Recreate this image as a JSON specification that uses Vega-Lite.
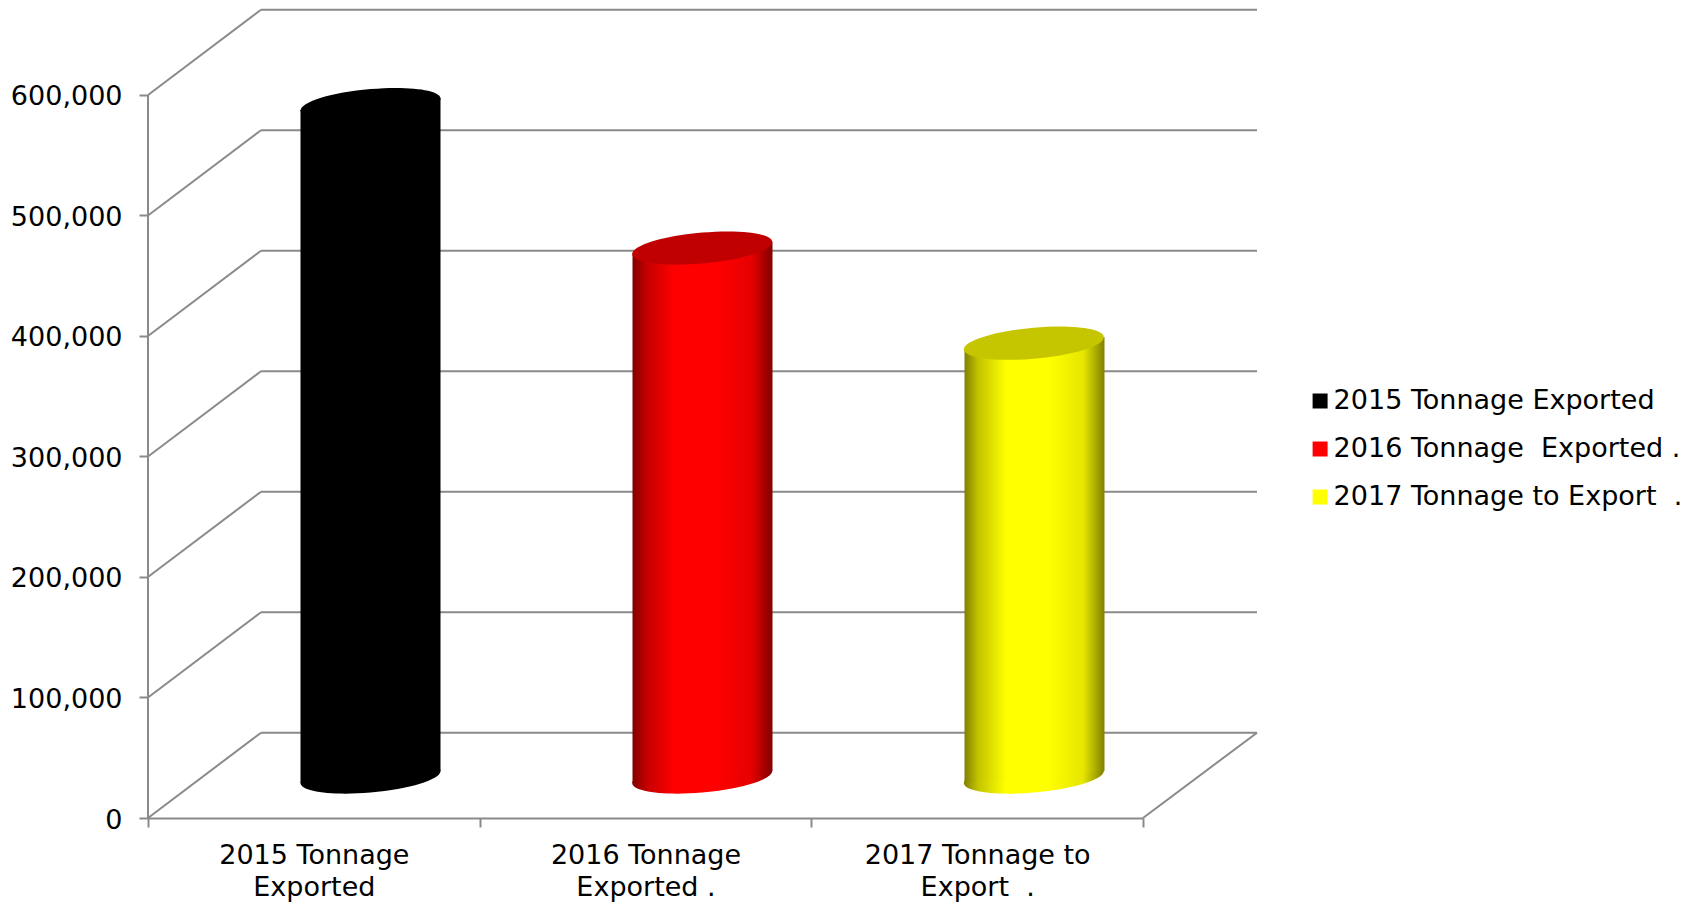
{
"$schema":"https://vega.github.io/schema/vega-lite/v6.json",
"width":1109,"height":809,
"autosize":{"type":"none"},
"padding":{"left":148,"top":9,"right":442,"bottom":85},
"background":"white",
"config":{"view":{"stroke":null},"text":{"font":"DejaVu Sans"},"axis":{"labelFont":"DejaVu Sans","labelFontSize":27,"labelColor":"#000000"},"legend":{"labelFont":"DejaVu Sans","labelFontSize":27,"labelColor":"#000000"}},
"datasets":{
"bars":[
{"category":"2015 Tonnage|Exported","series":"2015 Tonnage Exported","value":558000},
{"category":"2016 Tonnage|Exported .","series":"2016 Tonnage\u00a0 Exported .","value":439000},
{"category":"2017 Tonnage to|Export\u00a0 .","series":"2017 Tonnage to Export\u00a0 .","value":360000}],
"grid":[
{"value":0,"back":70800},{"value":100000,"back":170800},{"value":200000,"back":270800},{"value":300000,"back":370800},{"value":400000,"back":470800},{"value":500000,"back":570800},{"value":600000,"back":670800}],
"bodies":[
{"series":"2015 Tonnage Exported","edge":0.4598,"top":587552,"base":29046},
{"series":"2015 Tonnage Exported","edge":0.8819,"top":597510,"base":39004},
{"series":"2016 Tonnage\u00a0 Exported .","edge":1.4608,"top":468465,"base":29046},
{"series":"2016 Tonnage\u00a0 Exported .","edge":1.8829,"top":478423,"base":39004},
{"series":"2017 Tonnage to Export\u00a0 .","edge":2.4618,"top":389211,"base":29046},
{"series":"2017 Tonnage to Export\u00a0 .","edge":2.8839,"top":399170,"base":39004}]
},
"resolve":{"scale":{"x":"independent"},"axis":{"x":"independent"}},
"layer":[
{"data":{"name":"bars"},
 "mark":{"type":"point","filled":true,"opacity":0},
 "encoding":{
  "x":{"field":"category","type":"nominal","sort":null,"scale":{"type":"band","range":[0,995],"paddingInner":0,"paddingOuter":0},
   "axis":{"title":null,"labelAngle":0,"tickBand":"extent","tickColor":"#8a8a8a","tickWidth":2,"tickSize":9,"domainColor":"#8a8a8a","domainWidth":2,"labelPadding":15.5,"labelLineHeight":32,"labelExpr":"split(datum.label,'|')","labelLimit":340,"labelOverlap":false,"grid":false}},
  "y":{"field":"value","type":"quantitative","scale":{"domain":[0,671369],"nice":false,"zero":false},
   "axis":{"title":null,"values":[0,100000,200000,300000,400000,500000,600000],"labelExpr":"format(datum.value,',')","domain":false,"grid":false,"tickColor":"#8a8a8a","tickWidth":2,"tickSize":9,"labelPadding":17,"labelOffset":2,"labelOverlap":false}},
  "color":{"field":"series","type":"nominal","sort":null,"scale":{"domain":["2015 Tonnage Exported","2016 Tonnage\u00a0 Exported .","2017 Tonnage to Export\u00a0 ."],"range":["#000000","#ff0000","#ffff00"]},
   "legend":{"title":null,"orient":"none","legendX":1158.6,"legendY":378.5,"padding":0,"symbolType":"square","symbolSize":225,"symbolOpacity":1,"symbolStrokeWidth":0,"labelOffset":0,"rowPadding":20,"labelLimit":400}}
 }},
{"data":{"name":"grid"},
 "mark":{"type":"rule","color":"#8a8a8a","strokeWidth":2},
 "encoding":{
  "x":{"datum":0.3407,"type":"quantitative","scale":{"domain":[0,3.3437]},"axis":null},
  "x2":{"datum":3.3437},
  "y":{"field":"back","type":"quantitative"}}},
{"data":{"name":"grid"},
 "mark":{"type":"rule","color":"#8a8a8a","strokeWidth":2},
 "encoding":{
  "x":{"datum":0,"type":"quantitative","scale":{"domain":[0,3.3437]},"axis":null},
  "x2":{"datum":0.3407},
  "y":{"field":"value","type":"quantitative"},
  "y2":{"field":"back"}}},
{"data":{"values":[{"low":0,"high":600000}]},
 "mark":{"type":"rule","color":"#8a8a8a","strokeWidth":2},
 "encoding":{
  "x":{"datum":0,"type":"quantitative","scale":{"domain":[0,3.3437]},"axis":null},
  "y":{"field":"low","type":"quantitative"},
  "y2":{"field":"high"}}},
{"data":{"values":[{"low":0,"high":70800}]},
 "mark":{"type":"rule","color":"#8a8a8a","strokeWidth":2},
 "encoding":{
  "x":{"datum":3,"type":"quantitative","scale":{"domain":[0,3.3437]},"axis":null},
  "x2":{"datum":3.3437},
  "y":{"field":"low","type":"quantitative"},
  "y2":{"field":"high"}}},

{"data":{"name":"bars"},"transform":[{"filter":"datum.value==558000"}],
 "mark":{"type":"point","filled":true,"opacity":1,"size":78400,"strokeWidth":0,"xOffset":56.7,"yOffset":-41,"fill":"#000000","shape":"M0.5,-0.0429C0.5,-0.104,0.2762,-0.1344,0,-0.1107C-0.2762,-0.087,-0.5,-0.0182,-0.5,0.0429C-0.5,0.104,-0.2762,0.1344,0,0.1107C0.2762,0.087,0.5,0.0182,0.5,-0.0429Z"},
 "encoding":{"x":{"field":"category","type":"nominal","scale":{"type":"band","domain":["2015 Tonnage|Exported","2016 Tonnage|Exported .","2017 Tonnage to|Export\u00a0 ."],"range":[0,995],"paddingInner":0,"paddingOuter":0},"axis":null},"y":{"datum":0,"type":"quantitative"}}},
{"data":{"name":"bodies"},"transform":[{"filter":"datum.edge<1"}],
 "mark":{"type":"area","orient":"vertical","fill":"#000000"},
 "encoding":{"x":{"field":"edge","type":"quantitative","scale":{"domain":[0,3.3437]},"axis":null},"y":{"field":"top","type":"quantitative","stack":null},"y2":{"field":"base"}}},
{"data":{"name":"bars"},"transform":[{"filter":"datum.value==558000"}],
 "mark":{"type":"point","filled":true,"opacity":1,"size":78400,"strokeWidth":0,"xOffset":56.7,"yOffset":-41,"fill":"#000000","shape":"M0.5,-0.0429C0.5,-0.104,0.2762,-0.1344,0,-0.1107C-0.2762,-0.087,-0.5,-0.0182,-0.5,0.0429C-0.5,0.104,-0.2762,0.1344,0,0.1107C0.2762,0.087,0.5,0.0182,0.5,-0.0429Z"},
 "encoding":{"x":{"field":"category","type":"nominal","scale":{"type":"band","domain":["2015 Tonnage|Exported","2016 Tonnage|Exported .","2017 Tonnage to|Export\u00a0 ."],"range":[0,995],"paddingInner":0,"paddingOuter":0},"axis":null},"y":{"field":"value","type":"quantitative"}}},

{"data":{"name":"bars"},"transform":[{"filter":"datum.value==439000"}],
 "mark":{"type":"point","filled":true,"opacity":1,"size":78400,"strokeWidth":0,"xOffset":56.7,"yOffset":-41,"fill":{"gradient":"linear","x1":0,"x2":1,"y1":0,"y2":0,"stops":[{"offset":0,"color":"#800000"},{"offset":0.1,"color":"#c40000"},{"offset":0.3,"color":"#ff0000"},{"offset":0.6,"color":"#ff0000"},{"offset":0.85,"color":"#e60000"},{"offset":1,"color":"#800000"}]},"shape":"M0.5,-0.0429C0.5,-0.104,0.2762,-0.1344,0,-0.1107C-0.2762,-0.087,-0.5,-0.0182,-0.5,0.0429C-0.5,0.104,-0.2762,0.1344,0,0.1107C0.2762,0.087,0.5,0.0182,0.5,-0.0429Z"},
 "encoding":{"x":{"field":"category","type":"nominal","scale":{"type":"band","domain":["2015 Tonnage|Exported","2016 Tonnage|Exported .","2017 Tonnage to|Export\u00a0 ."],"range":[0,995],"paddingInner":0,"paddingOuter":0},"axis":null},"y":{"datum":0,"type":"quantitative"}}},
{"data":{"name":"bodies"},"transform":[{"filter":"datum.edge>1 && datum.edge<2"}],
 "mark":{"type":"area","orient":"vertical","fill":{"gradient":"linear","x1":0,"x2":1,"y1":0,"y2":0,"stops":[{"offset":0,"color":"#800000"},{"offset":0.1,"color":"#c40000"},{"offset":0.3,"color":"#ff0000"},{"offset":0.6,"color":"#ff0000"},{"offset":0.85,"color":"#e60000"},{"offset":1,"color":"#800000"}]}},
 "encoding":{"x":{"field":"edge","type":"quantitative","scale":{"domain":[0,3.3437]},"axis":null},"y":{"field":"top","type":"quantitative","stack":null},"y2":{"field":"base"}}},
{"data":{"name":"bars"},"transform":[{"filter":"datum.value==439000"}],
 "mark":{"type":"point","filled":true,"opacity":1,"size":78400,"strokeWidth":0,"xOffset":56.7,"yOffset":-41,"fill":"#c00000","shape":"M0.5,-0.0429C0.5,-0.104,0.2762,-0.1344,0,-0.1107C-0.2762,-0.087,-0.5,-0.0182,-0.5,0.0429C-0.5,0.104,-0.2762,0.1344,0,0.1107C0.2762,0.087,0.5,0.0182,0.5,-0.0429Z"},
 "encoding":{"x":{"field":"category","type":"nominal","scale":{"type":"band","domain":["2015 Tonnage|Exported","2016 Tonnage|Exported .","2017 Tonnage to|Export\u00a0 ."],"range":[0,995],"paddingInner":0,"paddingOuter":0},"axis":null},"y":{"field":"value","type":"quantitative"}}},

{"data":{"name":"bars"},"transform":[{"filter":"datum.value==360000"}],
 "mark":{"type":"point","filled":true,"opacity":1,"size":78400,"strokeWidth":0,"xOffset":56.7,"yOffset":-41,"fill":{"gradient":"linear","x1":0,"x2":1,"y1":0,"y2":0,"stops":[{"offset":0,"color":"#808000"},{"offset":0.1,"color":"#c4c400"},{"offset":0.3,"color":"#ffff00"},{"offset":0.6,"color":"#ffff00"},{"offset":0.85,"color":"#e6e600"},{"offset":1,"color":"#808000"}]},"shape":"M0.5,-0.0429C0.5,-0.104,0.2762,-0.1344,0,-0.1107C-0.2762,-0.087,-0.5,-0.0182,-0.5,0.0429C-0.5,0.104,-0.2762,0.1344,0,0.1107C0.2762,0.087,0.5,0.0182,0.5,-0.0429Z"},
 "encoding":{"x":{"field":"category","type":"nominal","scale":{"type":"band","domain":["2015 Tonnage|Exported","2016 Tonnage|Exported .","2017 Tonnage to|Export\u00a0 ."],"range":[0,995],"paddingInner":0,"paddingOuter":0},"axis":null},"y":{"datum":0,"type":"quantitative"}}},
{"data":{"name":"bodies"},"transform":[{"filter":"datum.edge>2"}],
 "mark":{"type":"area","orient":"vertical","fill":{"gradient":"linear","x1":0,"x2":1,"y1":0,"y2":0,"stops":[{"offset":0,"color":"#808000"},{"offset":0.1,"color":"#c4c400"},{"offset":0.3,"color":"#ffff00"},{"offset":0.6,"color":"#ffff00"},{"offset":0.85,"color":"#e6e600"},{"offset":1,"color":"#808000"}]}},
 "encoding":{"x":{"field":"edge","type":"quantitative","scale":{"domain":[0,3.3437]},"axis":null},"y":{"field":"top","type":"quantitative","stack":null},"y2":{"field":"base"}}},
{"data":{"name":"bars"},"transform":[{"filter":"datum.value==360000"}],
 "mark":{"type":"point","filled":true,"opacity":1,"size":78400,"strokeWidth":0,"xOffset":56.7,"yOffset":-41,"fill":"#c6c600","shape":"M0.5,-0.0429C0.5,-0.104,0.2762,-0.1344,0,-0.1107C-0.2762,-0.087,-0.5,-0.0182,-0.5,0.0429C-0.5,0.104,-0.2762,0.1344,0,0.1107C0.2762,0.087,0.5,0.0182,0.5,-0.0429Z"},
 "encoding":{"x":{"field":"category","type":"nominal","scale":{"type":"band","domain":["2015 Tonnage|Exported","2016 Tonnage|Exported .","2017 Tonnage to|Export\u00a0 ."],"range":[0,995],"paddingInner":0,"paddingOuter":0},"axis":null},"y":{"field":"value","type":"quantitative"}}}
]
}
